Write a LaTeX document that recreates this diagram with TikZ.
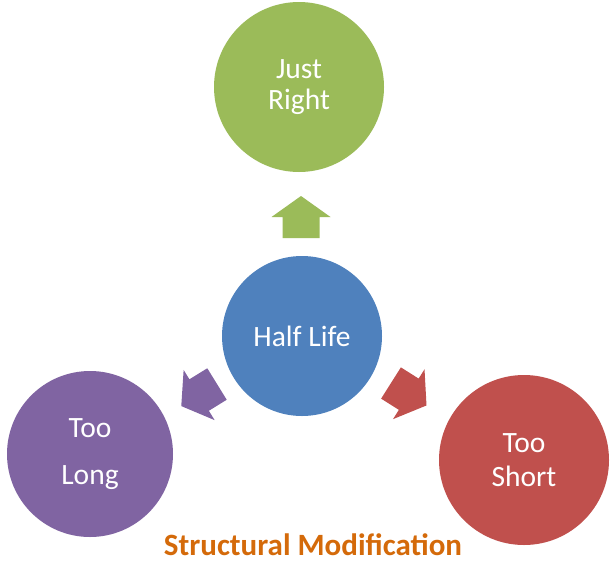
\documentclass[tikz,border=0pt]{standalone}
\usepackage{fontspec}
\setmainfont{Carlito}

\definecolor{rightgreen}{HTML}{9BBB59}
\definecolor{halfblue}{HTML}{4F81BD}
\definecolor{longpurple}{HTML}{8064A2}
\definecolor{shortred}{HTML}{C0504D}
\definecolor{modorange}{HTML}{D46A0A}

\tikzset{
  phase/.style={circle, inner sep=0pt, minimum size=#1, text=white, align=center},
  blockarr/.pic={
    \fill[pic actions] (0,-18.5) -- (21,-18.5) -- (21,-29.5) -- (42,0)
      -- (21,29.5) -- (21,18.5) -- (0,18.5) -- cycle;
  }
}

\begin{document}
\begin{tikzpicture}[x=1pt, y=-1pt]
  \useasboundingbox (0,0) rectangle (615,562);
  % the four circles
  \node[phase=170pt, fill=rightgreen, font=\fontsize{29.5}{31}\selectfont] (right) at (299,87) {Just\\Right};
  \node[phase=160pt, fill=halfblue, font=\fontsize{29.5}{34}\selectfont] (half) at (302,336) {Half Life};
  \node[phase=166pt, fill=longpurple, font=\fontsize{29.5}{47}\selectfont] (long) at (90,454) {Too\\Long};
  \node[phase=170pt, fill=shortred, font=\fontsize{29.5}{34}\selectfont] (short) at (524,460) {Too\\Short};
  % block arrows, placed by the middle of their tail
  \pic[fill=rightgreen, rotate=90] (toright) at (301,238) {blockarr};
  \pic[fill=longpurple, rotate=211.7] (tolong) at (217,384) {blockarr};
  \pic[fill=shortred, rotate=-32.3] (toshort) at (391,383) {blockarr};
  % caption
  \node[text=modorange, inner sep=0pt, font=\fontsize{31}{34}\selectfont\bfseries, anchor=base] (caption) at (313,555) {Structural Modification};
\end{tikzpicture}
\end{document}
